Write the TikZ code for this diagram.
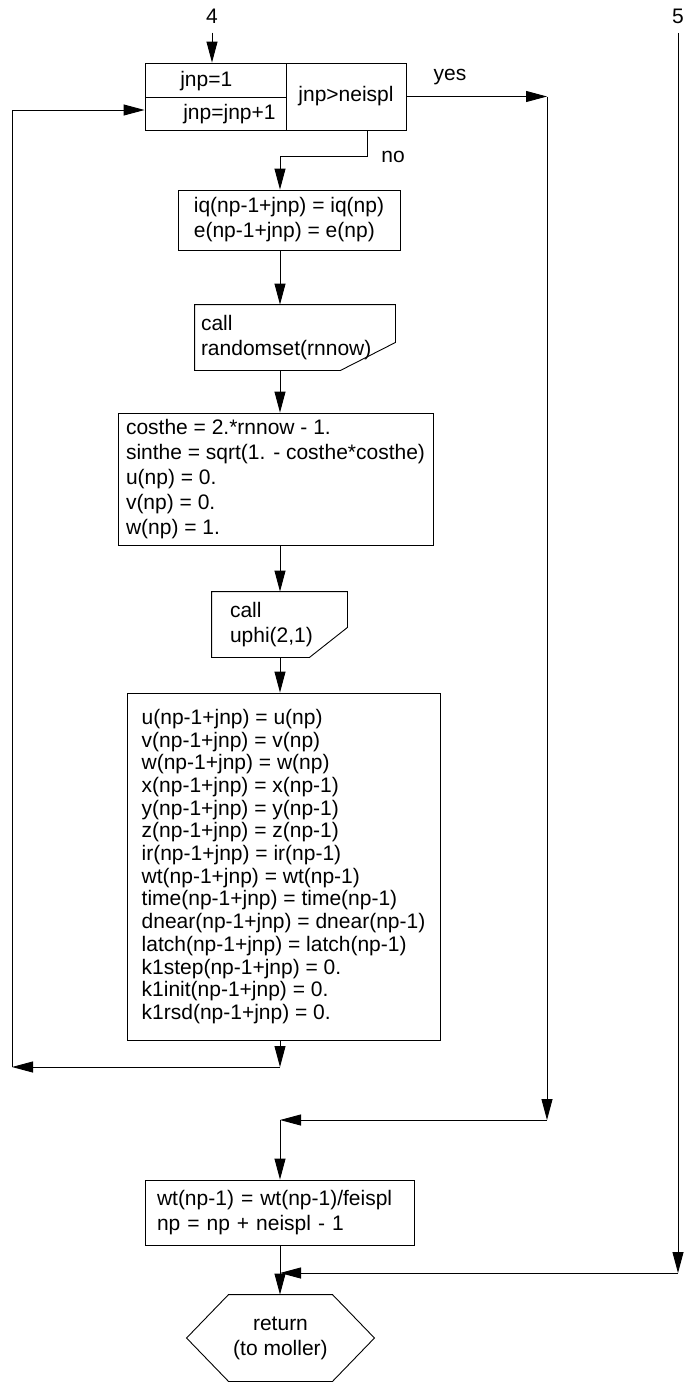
\documentclass[tikz,border=0pt]{standalone}
\usepackage{fontspec}
\setmainfont{Liberation Sans}
\usetikzlibrary{calc,arrows.meta}
\newcommand{\callshape}[3]{
	\draw (#1.north west) -- (#1.north east) -- ([yshift=#2]#1.south east)
	-- ([xshift=-#3]#1.south east) -- (#1.south west) -- cycle;
}
\newcommand{\hexshape}[2]{
	\draw ([xshift=#2]#1.north west) -- ([xshift=-#2]#1.north east) -- (#1.east)
	-- ([xshift=-#2]#1.south east) -- ([xshift=#2]#1.south west) -- (#1.west) -- cycle;
}
\tikzset{
	every node/.style={font=\fontsize{21}{25}\selectfont},
	flow/.style={-{Triangle[length=21pt,width=11pt]}},
	lab/.style={inner sep=9pt},
	cell/.style={draw, inner sep=0pt},
	stmt/.style={draw, align=left, inner ysep=4pt},
	callbox/.style={align=left, inner ysep=4pt}
}
\begin{document}
\begin{tikzpicture}[x=1pt,y=-1pt,line width=0.9pt]
				\useasboundingbox (0,0) rectangle (685,1382);
				\coordinate (col) at (280,0);
				
				\node[lab] (four) at (212,16) {4};
				\node[lab] (five) at (678,16) {5};
				
				\node[cell, minimum width=141pt, minimum height=34pt] (init) at (215.5,80) {};
				\node[cell, minimum width=141pt, minimum height=33pt] (incr) at (215.5,113.5) {};
				\node[cell, minimum width=120pt, minimum height=67pt] (test) at (346,96.5) {jnp>neispl};
				\node[anchor=west] (initt) at ([xshift=32pt,yshift=-1pt]init.west) {jnp=1};
				\node[anchor=west] (incrt) at ([xshift=35pt,yshift=-1pt]incr.west) {jnp=jnp+1};
				\node (yes) at (450,77) {yes};
				\node (no) at (393,157) {no};
				
				\node[stmt, minimum width=222pt, minimum height=60pt] (copy) at (289,220)
				{iq(np-1+jnp) = iq(np)\\e(np-1+jnp) = e(np)};
				
				\node[callbox, text width=188pt, inner xsep=6pt, minimum height=65pt] (rset) at (295,337.5)
				{call\\randomset(rnnow)};
				\callshape{rset}{28pt}{55pt}
				
				\node[stmt, minimum width=315pt, minimum height=132pt] (dir) at (275.5,479)
				{costhe = 2.*rnnow - 1.\\sinthe = sqrt(1. - costhe*costhe)\\u(np) = 0.\\v(np) = 0.\\w(np) = 1.};
				
				\node[callbox, text width=99pt, inner xsep=18pt, minimum height=65pt] (uphi) at (279.5,624.5)
				{call\\uphi(2,1)};
				\callshape{uphi}{30pt}{38pt}
				
				\node[stmt, font=\fontsize{21}{22.7}\selectfont, minimum width=313pt, minimum height=347pt] (dup) at (283.5,866.5)
				{u(np-1+jnp) = u(np)\\v(np-1+jnp) = v(np)\\w(np-1+jnp) = w(np)\\x(np-1+jnp) = x(np-1)\\
				y(np-1+jnp) = y(np-1)\\z(np-1+jnp) = z(np-1)\\ir(np-1+jnp) = ir(np-1)\\wt(np-1+jnp) = wt(np-1)\\
				time(np-1+jnp) = time(np-1)\\dnear(np-1+jnp) = dnear(np-1)\\latch(np-1+jnp) = latch(np-1)\\
				k1step(np-1+jnp) = 0.\\k1init(np-1+jnp) = 0.\\k1rsd(np-1+jnp) = 0.};
				
				\node[stmt, text width=245pt, inner xsep=12pt, minimum height=65pt] (wtup) at (279.5,1212.5)
				{wt(np-1) = wt(np-1)/feispl\\np = np + neispl - 1};
				
				\node[align=center, minimum width=187pt, minimum height=86pt] (ret) at (280.5,1338)
				{return\\(to moller)};
				\hexshape{ret}{42pt}
				
				\draw[flow] (four.south) -- (four.south |- init.north);
				
				\coordinate (yesc) at (547,96.5);
				\coordinate (yesj) at (547,1120);
				\coordinate (mrgA) at (280,1120);
				\draw[flow] (test.east) -- (yesc);
				\draw[flow] (yesc) -- (yesj);
				\draw[flow] (yesj) -- (mrgA);
				\draw[flow] (mrgA) -- (col |- wtup.north);
				
				\coordinate (nob) at (367,156);
				\draw[flow] (test.south -| nob) -- (nob) -- (col |- nob) -- (col |- copy.north);
				\draw[flow] (col |- copy.south) -- (col |- rset.north);
				\draw[flow] (col |- rset.south) -- (col |- dir.north);
				\draw[flow] (col |- dir.south) -- (col |- uphi.north);
				\draw[flow] (col |- uphi.south) -- (col |- dup.north);
				
				\coordinate (back) at (280,1067);
				\coordinate (backl) at (12,1067);
				\coordinate (loopin) at (12,110);
				\draw[flow] (col |- dup.south) -- (back);
				\draw[flow] (back) -- (backl);
				\draw[flow] (backl) -- (loopin) -- (loopin -| incr.west);
				
				\coordinate (fivej) at (678,1273);
				\coordinate (mrgB) at (280,1273);
				\draw[flow] (five.south) -- (fivej);
				\draw[flow] (fivej) -- (mrgB);
				\draw[flow] (col |- wtup.south) -- (col |- ret.north);
			\end{tikzpicture}
\end{document}
